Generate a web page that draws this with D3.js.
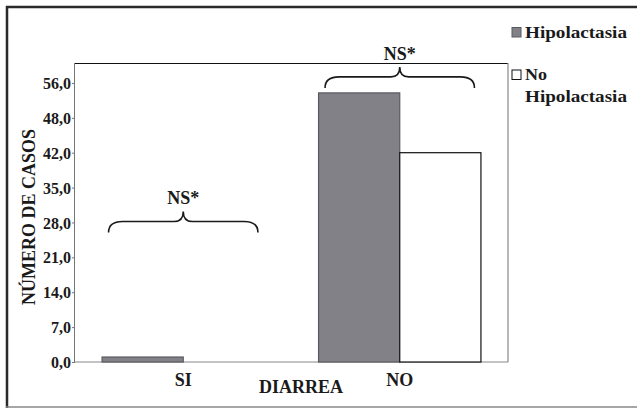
<!DOCTYPE html>
<html><head><meta charset="utf-8">
<script src="https://cdn.jsdelivr.net/npm/d3@7"></script>
<style>body{margin:0;background:#fff}svg{display:block}</style>
</head><body>
<script>
const categories = ["SI", "NO"];
const seriesNames = ["Hipolactasia", "No Hipolactasia"];
const hipolactasia = [1, 54];
const noHipolactasia = [0, 42];
const tickValues = [0, 7, 14, 21, 28, 35, 42, 49, 56];
const tickLabels = ["0,0", "7,0", "14,0", "21,0", "28,0", "35,0", "42,0", "48,0", "56,0"];
const annotations = ["NS*", "NS*"];
const annotationLevel = [26, 55];

const FONT = "'Liberation Serif', 'DejaVu Serif', 'Times New Roman', serif";

const W = 637, H = 408;
const svg = d3.select("body").append("svg").attr("width", W).attr("height", H);

// outer frame
svg.append("line").attr("x1", 7).attr("x2", 7).attr("y1", 6).attr("y2", 408).attr("stroke", "#2a2a2a").attr("stroke-width", 2.5);
svg.append("line").attr("x1", 6).attr("x2", 637).attr("y1", 7).attr("y2", 7).attr("stroke", "#2a2a2a").attr("stroke-width", 2.5);
svg.append("line").attr("x1", 6).attr("x2", 637).attr("y1", 407).attr("y2", 407).attr("stroke", "#888").attr("stroke-width", 1.5);

const L = 75, R = 508, T = 63, B = 362;
const x = d3.scaleBand().domain(categories).range([L, R]).paddingInner(0.25).paddingOuter(0.125);
const xs = d3.scaleBand().domain(seriesNames).range([0, x.bandwidth()]);
const y = d3.scaleLinear().domain([0, 60]).range([B, T]);

// plot frame
svg.append("line").attr("x1", L).attr("x2", R).attr("y1", T + 0.5).attr("y2", T + 0.5).attr("stroke", "#111").attr("stroke-width", 1);
svg.append("line").attr("x1", R).attr("x2", R).attr("y1", T).attr("y2", B).attr("stroke", "#888").attr("stroke-width", 1.2);
svg.append("line").attr("x1", L).attr("x2", R).attr("y1", B).attr("y2", B).attr("stroke", "#888").attr("stroke-width", 1.2);

// y axis
const yAxis = d3.axisLeft(y).tickValues(tickValues).tickFormat((d, i) => tickLabels[i]).tickSize(3).tickPadding(1);
const gy = svg.append("g").attr("transform", `translate(${L},0)`).call(yAxis);
gy.attr("font-family", null);
gy.select(".domain").attr("stroke", "#777").attr("d", `M-0.5,${T}V${B}`);
gy.selectAll(".tick line").attr("stroke", "#777");
gy.selectAll(".tick text").style("font-size", "16px").attr("dy", "0.35em");

// x axis labels
const xAxis = d3.axisBottom(x).tickSize(0).tickPadding(8);
const gx = svg.append("g").attr("transform", `translate(0,${B})`).call(xAxis);
gx.attr("font-family", null);
gx.select(".domain").remove();
gx.selectAll(".tick text").style("font-size", "18px").attr("dy", "0.9em");

// bars
const data = categories.map((c, i) => ({c, vals: [{s: seriesNames[0], v: hipolactasia[i]}, {s: seriesNames[1], v: noHipolactasia[i]}]}));
const groups = svg.selectAll("g.grp").data(data).join("g").attr("class", "grp").attr("transform", d => `translate(${x(d.c)},0)`);
groups.selectAll("rect").data(d => d.vals).join("rect")
  .attr("x", d => xs(d.s)).attr("width", xs.bandwidth())
  .attr("y", d => y(d.v)).attr("height", d => B - y(d.v))
  .attr("fill", d => d.s === seriesNames[0] ? "#818187" : "#fff")
  .attr("stroke", d => d.s === seriesNames[0] ? "#5a5a5e" : "#111")
  .attr("stroke-width", 1.2);

// braces + NS*
categories.forEach((c, i) => {
  const x1 = x(c) + 6.5, x2 = x(c) + x.bandwidth() - 6.5, xm = (x1 + x2) / 2;
  const yEnd = y(annotationLevel[i]), yH = yEnd - 11, yC = yEnd - 21;
  const p = `M${x1},${yEnd} Q${x1},${yH} ${x1 + 14},${yH} L${xm - 9},${yH} Q${xm},${yH} ${xm},${yC} Q${xm},${yH} ${xm + 9},${yH} L${x2 - 14},${yH} Q${x2},${yH} ${x2},${yEnd}`;
  svg.append("path").attr("d", p).attr("fill", "none").attr("stroke", "#1a1a1a").attr("stroke-width", 1.6);
  svg.append("text").attr("x", xm).attr("y", yC - 7).attr("text-anchor", "middle").style("font-size", "18px").text(annotations[i]);
});

// axis titles
svg.append("text").attr("transform", "translate(35,217) rotate(-90)").attr("text-anchor", "middle").style("font-size", "18px").text("NÚMERO DE CASOS");
svg.append("text").attr("x", 301).attr("y", 393).attr("text-anchor", "middle").style("font-size", "18px").text("DIARREA");

// legend
svg.append("rect").attr("x", 512).attr("y", 27.5).attr("width", 9).attr("height", 9.5).attr("fill", "#818187").attr("stroke", "#5a5a5e").attr("stroke-width", 1);
svg.append("text").attr("x", 525).attr("y", 38).style("font-size", "17px")
  .attr("textLength", 102).attr("lengthAdjust", "spacingAndGlyphs").text(seriesNames[0]);
svg.append("rect").attr("x", 512).attr("y", 70).attr("width", 9).attr("height", 9.5).attr("fill", "#fff").attr("stroke", "#111").attr("stroke-width", 1);
svg.append("text").attr("x", 525).attr("y", 80).style("font-size", "17px")
  .attr("textLength", 22).attr("lengthAdjust", "spacingAndGlyphs").text("No");
svg.append("text").attr("x", 525).attr("y", 102).style("font-size", "17px")
  .attr("textLength", 102).attr("lengthAdjust", "spacingAndGlyphs").text("Hipolactasia");

svg.selectAll("text").style("font-family", FONT).style("font-weight", "bold").attr("fill", "#1a1a1a");
</script>
</body></html>
